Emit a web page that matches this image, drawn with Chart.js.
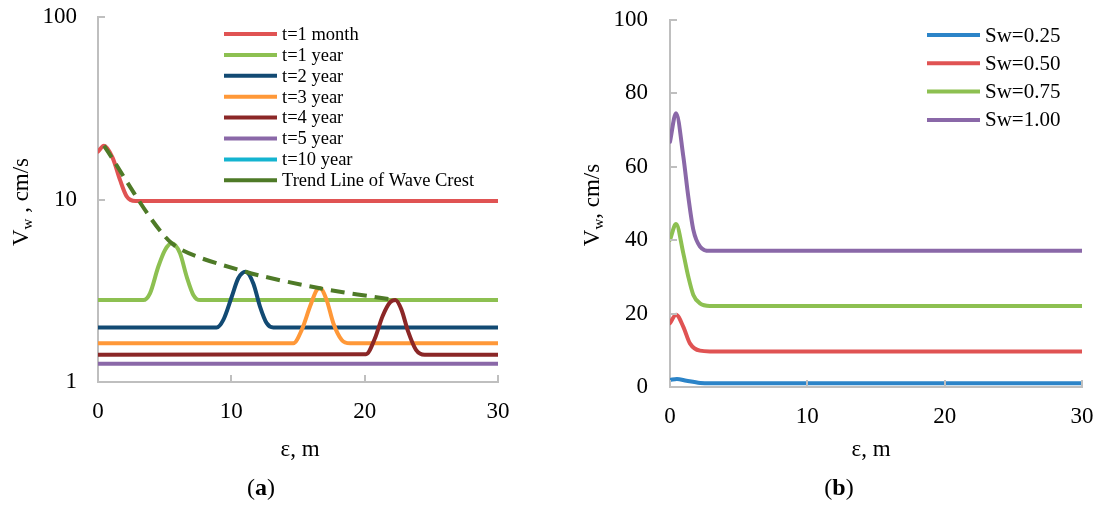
<!DOCTYPE html>
<html>
<head>
<meta charset="utf-8">
<script src="https://cdn.jsdelivr.net/npm/chart.js@4.4.1/dist/chart.umd.min.js"></script>
<style>
  body { margin: 0; background: #fff; }
  .wrap { display: flex; width: 1099px; height: 506px; }
  canvas { display: block; }
</style>
</head>
<body>
<div class="wrap">
  <canvas id="chartA" width="550" height="506"></canvas>
  <canvas id="chartB" width="549" height="506"></canvas>
</div>
<script>
// ------------------------------
// (a) wave velocity vs distance at several times (log axis)
// ------------------------------
const xTicksA = [0, 10, 20, 30];
const yTicksA = [1, 10, 100];

const month1X = [0, 0.45, 1.1, 1.65, 2.15, 2.8, 30];
const month1Y = [18.3, 19.7, 16.9, 12.8, 10.4, 9.8, 9.8];

const year1X = [0, 3.4, 3.9, 4.52, 5.03, 5.53, 6.15, 6.65, 7.15, 7.65, 30];
const year1Y = [2.81, 2.81, 3.06, 4.28, 5.29, 5.75, 5.07, 3.78, 3.0, 2.81, 2.81];

const year2X = [0, 8.9, 9.4, 10.03, 10.52, 11.07, 11.65, 12.15, 12.65, 13.15, 30];
const year2Y = [1.99, 1.99, 2.19, 2.93, 3.7, 4.02, 3.47, 2.59, 2.1, 1.99, 1.99];

const year3X = [0, 14.65, 15.28, 15.9, 16.4, 16.65, 17.15, 17.65, 18.28, 18.9, 30];
const year3Y = [1.63, 1.63, 1.93, 2.59, 3.19, 3.26, 2.81, 2.1, 1.7, 1.63, 1.63];

const year4X = [0, 20.1, 20.75, 21.35, 21.9, 22.3, 22.75, 23.25, 23.85, 24.5, 30];
const year4Y = [1.41, 1.42, 1.72, 2.3, 2.73, 2.81, 2.5, 1.9, 1.5, 1.41, 1.41];

const year5X = [0, 30];
const year5Y = [1.26, 1.26];

const year10X = [0, 30];
const year10Y = [0.85, 0.85];

// crest of each wave, joined by the dashed trend line
const crestX = [0.45, 5.53, 11.07, 16.65, 22.3];
const crestY = [19.7, 5.75, 4.02, 3.26, 2.81];

const labelsA = ['t=1 month', 't=1 year', 't=2 year', 't=3 year', 't=4 year', 't=5 year', 't=10 year', 'Trend Line of Wave Crest'];

// ------------------------------
// (b) wave velocity vs distance for water saturation
// ------------------------------
const xTicksB = [0, 10, 20, 30];
const yTicksB = [0, 20, 40, 60, 80, 100];

const sw25X = [0, 0.5, 1.2, 2.2, 3.0, 30];
const sw25Y = [1.9, 2.2, 1.7, 1.1, 1.0, 1.0];

const sw50X = [0, 0.44, 0.97, 1.45, 2.18, 2.9, 30];
const sw50Y = [17.4, 19.7, 16.4, 11.9, 9.9, 9.7, 9.7];

const sw75X = [0, 0.44, 0.97, 1.33, 1.7, 2.18, 2.9, 30];
const sw75Y = [40.1, 44.4, 36.4, 30.1, 25.1, 22.8, 22.1, 22.1];

const sw100X = [0, 0.44, 0.97, 1.33, 1.7, 2.18, 2.9, 30];
const sw100Y = [66.8, 74.6, 62.8, 51.9, 42.8, 38.3, 37.1, 37.1];

const labelsB = ['Sw=0.25', 'Sw=0.50', 'Sw=0.75', 'Sw=1.00'];

// ------------------------------
// Styling
// ------------------------------
const serif = "'Liberation Serif', 'Times New Roman', serif";
const axisGray = '#BFBFBF';
const colorsA = ['#E05353', '#8DC051', '#124A73', '#FF9838', '#8B2727', '#8A68A8', '#14B4D0', '#4E7A27'];
const colorsB = ['#2C84C8', '#E05353', '#8DC051', '#8A68A8'];

Chart.defaults.font.family = serif;
Chart.defaults.color = '#000';

function zip(xs, ys) {
    return xs.map((x, i) => ({ x: x, y: ys[i] }));
}

function series(label, xs, ys, color, idx, count) {
    return {
        label: label,
        data: zip(xs, ys),
        borderColor: color,
        backgroundColor: color,
        borderWidth: 4,
        borderCapStyle: 'round',
        pointRadius: 0,
        fill: false,
        cubicInterpolationMode: 'monotone',
        order: count - idx // later series drawn on top
    };
}

// ------------------------------
// Plugin: inward tick marks, legend, axis titles and caption
// ------------------------------
const decor = {
    id: 'decor',
    afterDraw(chart, args, o) {
        const ctx = chart.ctx;
        const { left, right, top, bottom } = chart.chartArea;
        const xs = chart.scales.x, ys = chart.scales.y;
        ctx.save();

        // tick marks pointing into the plot
        ctx.strokeStyle = axisGray;
        ctx.lineWidth = 2;
        ys.ticks.forEach(t => {
            const py = Math.round(ys.getPixelForValue(t.value));
            ctx.beginPath(); ctx.moveTo(left, py); ctx.lineTo(left + 7, py); ctx.stroke();
        });
        xs.ticks.forEach(t => {
            const px = Math.round(xs.getPixelForValue(t.value));
            ctx.beginPath(); ctx.moveTo(px, bottom); ctx.lineTo(px, bottom - 7); ctx.stroke();
        });

        // legend
        const lg = o.legend;
        ctx.font = lg.size + 'px ' + serif;
        ctx.textBaseline = 'middle';
        ctx.textAlign = 'left';
        chart.data.datasets.forEach((ds, i) => {
            const y = lg.y0 + i * lg.dy;
            ctx.strokeStyle = ds.borderColor;
            ctx.lineWidth = 4;
            ctx.setLineDash([]);
            ctx.lineCap = 'butt';
            ctx.beginPath(); ctx.moveTo(lg.x0, y); ctx.lineTo(lg.x1, y); ctx.stroke();
            ctx.fillStyle = '#000';
            ctx.fillText(ds.label, lg.tx, y + 1);
        });

        // x axis title
        ctx.fillStyle = '#000';
        ctx.font = '23px ' + serif;
        ctx.textAlign = 'center';
        ctx.fillText('\u03B5, m', (left + right) / 2 + o.xTitleShift, 450);

        // caption "(a)" / "(b)" with bold letter
        const parts = [['(', '24px ' + serif], [o.caption, 'bold 24px ' + serif], [')', '24px ' + serif]];
        let w = 0;
        parts.forEach(p => { ctx.font = p[1]; w += ctx.measureText(p[0]).width; });
        let cx = o.captionX - w / 2;
        ctx.textAlign = 'left';
        parts.forEach(p => { ctx.font = p[1]; ctx.fillText(p[0], cx, 489); cx += ctx.measureText(p[0]).width; });

        // y axis title with subscript w, rotated
        ctx.translate(o.yTitleX, o.yTitleY);
        ctx.rotate(-Math.PI / 2);
        const segs = [['V', '23px ' + serif, 0], ['w', '15px ' + serif, 6], [o.yTitleTail, '23px ' + serif, 0]];
        w = 0;
        segs.forEach(s => { ctx.font = s[1]; w += ctx.measureText(s[0]).width; });
        let sx = -w / 2;
        ctx.textBaseline = 'middle';
        segs.forEach(s => { ctx.font = s[1]; ctx.fillText(s[0], sx, s[2]); sx += ctx.measureText(s[0]).width; });

        ctx.restore();
    }
};

function axisCommon(ticksArr, pad) {
    return {
        grid: { display: false, drawTicks: false },
        border: { display: true, color: axisGray, width: 2 },
        ticks: { padding: pad, font: { size: 23, family: serif }, color: '#000', callback: v => String(v) },
        afterBuildTicks: s => { s.ticks = ticksArr.map(v => ({ value: v })); }
    };
}

// fixed axis sizes, no extra room for overhanging labels
function fitX(h) {
    return s => { s.height = h; s.paddingLeft = 0; s.paddingRight = 0; };
}
function fitY(w) {
    return s => { s.width = w; s.paddingTop = 0; s.paddingBottom = 0; };
}

// ------------------------------
// Chart (a)
// ------------------------------
const dataA = [
    [month1X, month1Y], [year1X, year1Y], [year2X, year2Y], [year3X, year3Y],
    [year4X, year4Y], [year5X, year5Y], [year10X, year10Y], [crestX, crestY]
];
const dsA = dataA.map((d, i) => series(labelsA[i], d[0], d[1], colorsA[i], i, dataA.length));
// trend line: dashed, smooth through the crests
Object.assign(dsA[7], { borderDash: [14, 8], borderWidth: 4, borderCapStyle: 'butt', cubicInterpolationMode: 'default', tension: 0.25 });

new Chart(document.getElementById('chartA'), {
    type: 'line',
    data: { datasets: dsA },
    options: {
        responsive: false,
        animation: false,
        layout: { padding: { left: 0, right: 52, top: 17, bottom: 0 } },
        plugins: {
            legend: { display: false },
            tooltip: { enabled: false },
            decor: {
                legend: { x0: 224, x1: 277, tx: 282, y0: 34, dy: 20.9, size: 18.5 },
                caption: 'a', captionX: 261, xTitleShift: 2,
                yTitleX: 22, yTitleY: 202, yTitleTail: ' , cm/s'
            }
        },
        scales: {
            x: Object.assign(axisCommon(xTicksA, 16), {
                type: 'linear', min: 0, max: 30,
                afterFit: fitX(124)
            }),
            y: Object.assign(axisCommon(yTicksA, 21), {
                type: 'logarithmic', min: 1, max: 100,
                afterFit: fitY(98)
            })
        }
    },
    plugins: [decor]
});

// ------------------------------
// Chart (b)
// ------------------------------
const dataB = [[sw25X, sw25Y], [sw50X, sw50Y], [sw75X, sw75Y], [sw100X, sw100Y]];
const dsB = dataB.map((d, i) => series(labelsB[i], d[0], d[1], colorsB[i], i, dataB.length));

new Chart(document.getElementById('chartB'), {
    type: 'line',
    data: { datasets: dsB },
    options: {
        responsive: false,
        animation: false,
        layout: { padding: { left: 0, right: 17, top: 20, bottom: 0 } },
        plugins: {
            legend: { display: false },
            tooltip: { enabled: false },
            decor: {
                legend: { x0: 377, x1: 430, tx: 435, y0: 35, dy: 28.3, size: 21 },
                caption: 'b', captionX: 289, xTitleShift: -5,
                yTitleX: 43, yTitleY: 205, yTitleTail: ', cm/s'
            }
        },
        scales: {
            x: Object.assign(axisCommon(xTicksB, 16), {
                type: 'linear', min: 0, max: 30,
                afterFit: fitX(119)
            }),
            y: Object.assign(axisCommon(yTicksB, 22), {
                type: 'linear', min: 0, max: 100,
                afterFit: fitY(120)
            })
        }
    },
    plugins: [decor]
});
</script>
</body>
</html>
